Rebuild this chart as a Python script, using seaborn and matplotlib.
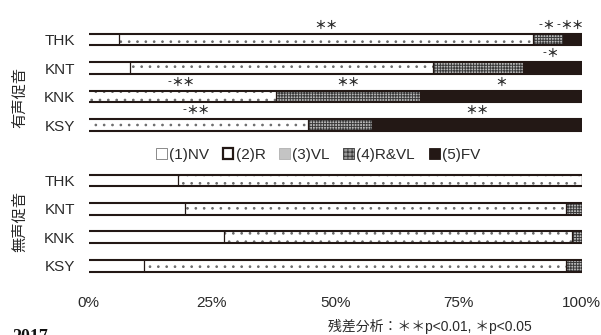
import numpy as np
import pandas as pd
import matplotlib
matplotlib.use("Agg")
import matplotlib.pyplot as plt
from matplotlib.patches import Patch
import seaborn as sns

# ---- data -------------------------------------------------------------
speakers = ["THK", "KNT", "KNK", "KSY"]
segments = ["(1)NV", "(2)R", "(3)VL", "(4)R&VL", "(5)FV"]
x_ticks = [0, 25, 50, 75, 100]
x_tick_labels = ["0%", "25%", "50%", "75%", "100%"]

# 有声促音 (percent of tokens)
voiced_nv = [6.1, 8.4, 0.0, 0.0]
voiced_r = [84.1, 61.4, 38.1, 44.4]
voiced_vl = [0.0, 0.0, 0.0, 0.0]
voiced_rvl = [6.0, 18.3, 29.1, 13.1]
voiced_fv = [3.8, 11.9, 32.8, 42.5]

# 無声促音 (percent of tokens)
voiceless_nv = [18.1, 19.5, 27.5, 11.2]
voiceless_r = [81.9, 77.4, 70.6, 85.7]
voiceless_vl = [0.0, 0.0, 0.0, 0.0]
voiceless_rvl = [0.0, 3.1, 1.9, 3.1]
voiceless_fv = [0.0, 0.0, 0.0, 0.0]

# residual-analysis marks per segment (有声促音 only)
voiced_sig_nv = ["", "", "", ""]
voiced_sig_r = ["**", "", "-**", "-**"]
voiced_sig_vl = ["", "", "", ""]
voiced_sig_rvl = ["-*", "", "**", ""]
voiced_sig_fv = ["-**", "-*", "*", "**"]
empty_sig = ["", "", "", ""]

# ---- style ------------------------------------------------------------
sns.set_theme(style="white")
plt.rcParams["font.family"] = ["Liberation Sans", "Noto Sans CJK JP", "DejaVu Sans"]
plt.rcParams["hatch.linewidth"] = 0.7
INK = "#231815"
TEXT = "#2a2a2a"
BAR_W = 0.42
STAR_SIZE = 8.5

# face colour, hatch, hatch colour for each segment
seg_style = {
    "(1)NV": ("white", None, "white"),
    "(2)R": ("white", "..", "#6a6a6a"),
    "(3)VL": ("#c4c4c4", None, "#c4c4c4"),
    "(4)R&VL": ("#bcbcbc", "++++++", "#3a3a3a"),
    "(5)FV": (INK, None, INK),
}


def draw_group(ax, parts, marks):
    df = pd.DataFrame({"speaker": speakers})
    lefts = {}
    cum = np.zeros(len(speakers))
    for name, vals in zip(segments, parts):
        lefts[name] = cum.copy()
        cum = cum + np.asarray(vals, dtype=float)
        df[name] = cum

    # cumulative bars, longest first, so each shorter one lies on top
    for name in reversed(segments):
        face, hatch, hcol = seg_style[name]
        start = len(ax.patches)
        sns.barplot(data=df, x=name, y="speaker", orient="h", color=face,
                    width=BAR_W, errorbar=None, linewidth=0, ax=ax)
        for p in ax.patches[start:]:
            p.set_facecolor(face)
            p.set_edgecolor(hcol)
            p.set_linewidth(0)
            if hatch:
                p.set_hatch(hatch)

    ax.set_xlim(0, 100)
    ax.set_ylim(len(speakers) - 0.5, -0.5)
    ax.set_xlabel("")
    ax.set_ylabel("")
    for s in ax.spines.values():
        s.set_visible(False)

    # outline: heavy top/bottom rules, thin dividers between segments
    full = ax.patches[:len(speakers)]
    for i, p in enumerate(full):
        y0, h = p.get_y(), p.get_height()
        ax.hlines([y0, y0 + h], 0, p.get_width(), color=INK, lw=1.5, zorder=5)
        for name, vals in zip(segments, parts):
            if vals[i] > 0:
                edge = lefts[name][i] + vals[i]
                ax.vlines(edge, y0, y0 + h, color=INK, lw=0.9, zorder=5)
        # significance marks centred over their segment
        for name, vals, sig in zip(segments, parts, marks):
            mark = sig[i]
            if not mark:
                continue
            xc = lefts[name][i] + vals[i] / 2
            stars = mark.lstrip("-").replace("*", "\uff0a")
            ax.annotate(stars, xy=(xc, y0), xytext=(0, 5.5),
                        textcoords="offset points", ha="center", va="center",
                        fontsize=STAR_SIZE, weight="bold", color=TEXT,
                        annotation_clip=False)
            if mark.startswith("-"):
                ax.annotate("-", xy=(xc, y0),
                            xytext=(-STAR_SIZE / 2 * len(stars) + 0.2, 6.2),
                            textcoords="offset points", ha="right", va="center",
                            fontsize=STAR_SIZE, color=TEXT, annotation_clip=False)

    ax.tick_params(axis="y", length=0, pad=10, labelsize=11, labelcolor=TEXT)


fig = plt.figure(figsize=(6.01, 3.35), dpi=100)
ax_top = fig.add_axes([0.1476, 0.5843, 0.8200, 0.3403])
ax_bot = fig.add_axes([0.1476, 0.1650, 0.8200, 0.3385])

draw_group(ax_top,
           [voiced_nv, voiced_r, voiced_vl, voiced_rvl, voiced_fv],
           [voiced_sig_nv, voiced_sig_r, voiced_sig_vl, voiced_sig_rvl, voiced_sig_fv])
draw_group(ax_bot,
           [voiceless_nv, voiceless_r, voiceless_vl, voiceless_rvl, voiceless_fv],
           [empty_sig] * 5)

ax_top.set_xticks([])
ax_bot.set_xticks(x_ticks)
ax_bot.set_xticklabels(x_tick_labels)
ax_bot.tick_params(axis="x", length=0, pad=12, labelsize=11, labelcolor=TEXT)

# group labels
fig.text(20 / 601, 1 - 97.5 / 335, "有声促音", rotation=90, ha="center",
         va="center", fontsize=11, color=TEXT)
fig.text(20 / 601, 1 - 221.5 / 335, "無声促音", rotation=90, ha="center",
         va="center", fontsize=11, color=TEXT)

# legend between the two groups
handles = [
    Patch(facecolor="white", edgecolor="#777777", linewidth=0.6),
    Patch(facecolor="white", edgecolor=INK, linewidth=1.6),
    Patch(facecolor="#c4c4c4", edgecolor="#b0b0b0", linewidth=0.6),
    Patch(facecolor="#9a9a9a", edgecolor="#3a3a3a", hatch="++++", linewidth=0.6),
    Patch(facecolor=INK, edgecolor=INK, linewidth=0.6),
]
fig.legend(handles=handles, labels=segments, loc="center",
           bbox_to_anchor=(318 / 601, 1 - 155 / 335), ncol=5, frameon=False,
           fontsize=11, handlelength=0.7, handleheight=0.7,
           handletextpad=0.15, columnspacing=0.9, labelcolor=TEXT)

fig.text(430 / 601, 1 - 326 / 335, "残差分析：\uff0a\uff0ap<0.01, \uff0ap<0.05",
         ha="center", va="center", fontsize=10, color=TEXT)
fig.text(12 / 601, 1 - 329 / 335, "2017", family="Liberation Serif",
         weight="bold", fontsize=13, ha="left", va="top", color="#111111")

fig.savefig("out.png", dpi=100)
